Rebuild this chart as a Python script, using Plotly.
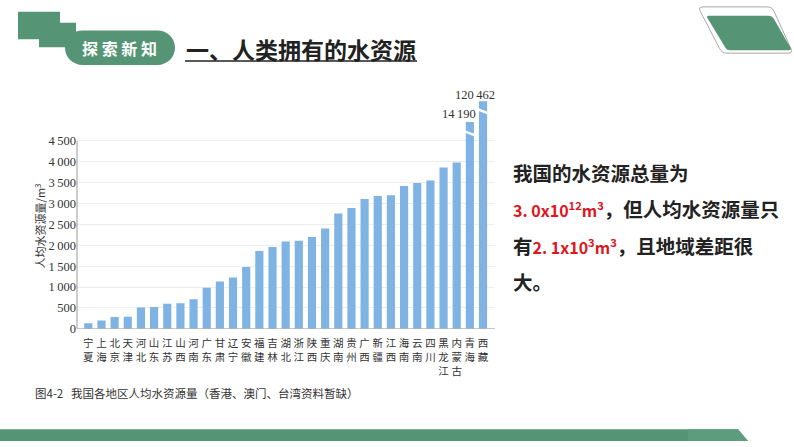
import plotly.graph_objects as go

# ---------------- data ----------------
regions = ["宁夏", "上海", "北京", "天津", "河北", "山东", "江苏", "山西", "河南", "广东",
           "甘肃", "辽宁", "安徽", "福建", "吉林", "湖北", "浙江", "陕西", "重庆", "湖南",
           "贵州", "广西", "新疆", "江西", "海南", "云南", "四川", "黑龙江", "内蒙古", "青海", "西藏"]
water_per_capita = [130, 200, 280, 290, 510, 520, 600, 610, 710, 980,
                    1130, 1230, 1480, 1860, 1960, 2090, 2110, 2200, 2400, 2760,
                    2890, 3110, 3180, 3200, 3420, 3490, 3550, 3860, 3980, 14190, 120462]
y_ticks = [0, 500, 1000, 1500, 2000, 2500, 3000, 3500, 4000, 4500]
axis_break = 4500
# heights at which the over-range bars are drawn on the broken axis, and where the break mark sits
broken_drawn = {"青海": 4955, "西藏": 5450}
break_mark_at = {"青海": 4680, "西藏": 5210}

W, H = 794, 447
GREEN = "#559576"
BAR = "#7fb3e3"


def X(px):
    return px / W


def Y(py):
    return 1 - py / H


def group(v):
    s = str(v)
    if len(s) <= 3:
        return s
    parts = []
    while len(s) > 3:
        parts.insert(0, s[-3:])
        s = s[:-3]
    parts.insert(0, s)
    return "\u2009".join(parts)


def path_from(cmds):
    out = []
    for c in cmds:
        if c[0] == "Z":
            out.append("Z")
        else:
            op = c[0]
            pts = c[1:]
            coords = " ".join(f"{X(px):.5f},{Y(py):.5f}" for px, py in pts)
            out.append(f"{op} {coords}")
    return " ".join(out)


def rounded_polygon(points, r):
    n = len(points)
    cmds = []
    for i in range(n):
        p_prev = points[i - 1]
        p = points[i]
        p_next = points[(i + 1) % n]

        def toward(a, b, d):
            dx, dy = b[0] - a[0], b[1] - a[1]
            L = (dx * dx + dy * dy) ** 0.5
            return (a[0] + dx / L * d, a[1] + dy / L * d)
        a = toward(p, p_prev, r)
        b = toward(p, p_next, r)
        cmds.append(("M" if i == 0 else "L", a))
        cmds.append(("Q", p, b))
    cmds.append(("Z",))
    return path_from(cmds)


def pill(x0, y0, x1, y1):
    r = (y1 - y0) / 2
    k = 0.5523 * r
    cy = (y0 + y1) / 2
    cmds = [("M", (x0 + r, y0)), ("L", (x1 - r, y0)),
            ("C", (x1 - r + k, y0), (x1, cy - k), (x1, cy)),
            ("C", (x1, cy + k), (x1 - r + k, y1), (x1 - r, y1)),
            ("L", (x0 + r, y1)),
            ("C", (x0 + r - k, y1), (x0, cy + k), (x0, cy)),
            ("C", (x0, cy - k), (x0 + r - k, y0), (x0 + r, y0)),
            ("Z",)]
    return path_from(cmds)


n = len(regions)
xs = list(range(n))
drawn = [v if v <= axis_break else broken_drawn[r] for r, v in zip(regions, water_per_capita)]
ticktext = ["<br>".join(list(r)) for r in regions]

fig = go.Figure(go.Bar(x=xs, y=drawn, marker=dict(color=BAR, line=dict(width=0)),
                       width=0.62, hoverinfo="skip"))

shapes = []
annotations = []

# axis lines
shapes.append(dict(type="line", xref="x domain", yref="y", x0=0, x1=0, y0=0, y1=axis_break,
                   line=dict(color="#9a9a9a", width=1), layer="above"))
shapes.append(dict(type="line", xref="x domain", yref="y", x0=0, x1=1, y0=0, y1=0,
                   line=dict(color="#9a9a9a", width=1), layer="above"))

# break marks and labels for over-range bars
num_font = dict(family="Liberation Serif", size=12.5, color="#333")
label_shift = {"青海": (8, -1), "西藏": (14, -3)}
for r, v in zip(regions, water_per_capita):
    if v > axis_break:
        i = regions.index(r)
        m = break_mark_at[r]
        shapes.append(dict(type="line", xref="x", yref="y", x0=i - 0.45, x1=i + 0.45,
                           y0=m + 55, y1=m - 55, line=dict(color="white", width=2.5), layer="above"))
        dx, dy = label_shift[r]
        annotations.append(dict(x=i, y=broken_drawn[r], xref="x", yref="y",
                                xanchor="right", yanchor="bottom", xshift=dx, yshift=dy,
                                showarrow=False, text=group(v), font=num_font))

# y axis title
annotations.append(dict(x=X(40), y=Y(230), xref="paper", yref="paper", textangle=-90,
                        xanchor="center", yanchor="middle",
                        showarrow=False, text="人均水资源量/m<sup>3</sup>",
                        font=dict(family="Noto Sans CJK SC", size=11, color="#333")))

# caption
annotations.append(dict(x=X(33), y=Y(399), xref="paper", yref="paper", xanchor="left", yanchor="middle",
                        showarrow=False, text="图4-2   我国各地区人均水资源量（香港、澳门、台湾资料暂缺）",
                        font=dict(family="Noto Sans CJK SC", size=11.5, color="#333")))

# header decorations
shapes.append(dict(type="rect", xref="paper", yref="paper", x0=X(18), x1=X(60), y0=Y(40), y1=Y(12),
                   fillcolor=GREEN, line=dict(width=0)))
shapes.append(dict(type="rect", xref="paper", yref="paper", x0=X(39), x1=X(76), y0=Y(48), y1=Y(23),
                   fillcolor=GREEN, line=dict(width=0)))
shapes.append(dict(type="path", xref="paper", yref="paper", path=pill(65, 31, 175, 66),
                   fillcolor=GREEN, line=dict(width=0)))
annotations.append(dict(x=X(119), y=Y(49), xref="paper", yref="paper", xanchor="center", yanchor="middle",
                        showarrow=False, text="<b>探 索 新 知</b>",
                        font=dict(family="Noto Sans CJK SC", size=16, color="white")))
annotations.append(dict(x=X(184), y=Y(50), xref="paper", yref="paper", xanchor="left", yanchor="middle",
                        showarrow=False, text="<b>一、人类拥有的水资源</b>",
                        font=dict(family="Noto Sans CJK SC", size=23, color="#222")))
shapes.append(dict(type="line", xref="paper", yref="paper", x0=X(185), x1=X(417), y0=Y(62), y1=Y(62),
                   line=dict(color="#222", width=1.5)))

# top-right parallelograms
shapes.append(dict(type="path", xref="paper", yref="paper",
                   path=rounded_polygon([(698, 7), (772, 7), (793, 54), (722, 54)], 5),
                   fillcolor="rgba(0,0,0,0)", line=dict(color="#a8a8a8", width=1)))
shapes.append(dict(type="path", xref="paper", yref="paper",
                   path=rounded_polygon([(706, 16), (772, 16), (792, 51), (727, 51)], 3),
                   fillcolor=GREEN, line=dict(width=0)))

# bottom band
shapes.append(dict(type="path", xref="paper", yref="paper",
                   path=path_from([("M", (0, 436)), ("L", (738, 436)), ("L", (748, 448)), ("L", (0, 448)), ("Z",)]),
                   fillcolor=GREEN, line=dict(width=0)))
shapes.append(dict(type="path", xref="paper", yref="paper",
                   path=path_from([("M", (688, 436)), ("L", (738, 436)), ("L", (748, 448)), ("L", (688, 448)), ("Z",)]),
                   fillcolor="#5e9c7e", line=dict(width=0)))

# right-side text
txt_font = dict(family="Noto Sans CJK SC", size=19.5, color="#222")
red = "#e0141c"


def red_span(s):
    return f"<span style='color:{red};font-size:16px'>{s}</span>"


lines = [
    (175, "<b>我国的水资源总量为</b>"),
    (212, "<b>" + red_span("3. 0x10<sup>12</sup>m<sup>3</sup>") + "，但人均水资源量只</b>"),
    (249, "<b>有" + red_span("2. 1x10<sup>3</sup>m<sup>3</sup>") + "，且地域差距很</b>"),
    (286, "<b>大。</b>"),
]
for py, t in lines:
    annotations.append(dict(x=X(511), y=Y(py), xref="paper", yref="paper", xanchor="left", yanchor="middle",
                            showarrow=False, text=t, font=txt_font))

fig.update_layout(
    width=W, height=H, margin=dict(l=0, r=0, t=0, b=0),
    paper_bgcolor="white", plot_bgcolor="white", showlegend=False,
    xaxis=dict(domain=[X(77), X(495)], range=[-0.86, 30.91], tickmode="array", tickvals=xs,
               ticktext=ticktext, tickangle=0, showgrid=False, zeroline=False, showline=False,
               ticks="outside", ticklen=5, tickcolor="rgba(0,0,0,0)",
               tickfont=dict(family="Noto Sans CJK SC", size=10.5, color="#333")),
    yaxis=dict(domain=[1 - 334 / H, 1 - 88 / H], range=[0, 5800], tickmode="array", tickvals=y_ticks,
               ticktext=[group(v) for v in y_ticks], showgrid=True, gridcolor="#ededed", gridwidth=1,
               zeroline=False, showline=False, ticks="",
               tickfont=dict(family="Liberation Serif", size=12.5, color="#333")),
    shapes=shapes, annotations=annotations,
)

fig.write_html("out.html")
